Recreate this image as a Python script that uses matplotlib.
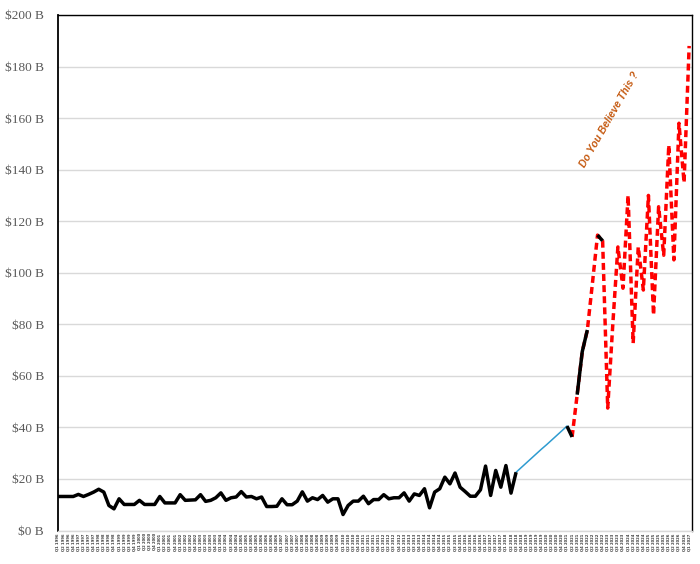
import numpy as np
import matplotlib
matplotlib.use("Agg")
import matplotlib.pyplot as plt

# ---------------- data ----------------
start_year = 1996
n_quarters = 125
quarter_labels = [f"Q{(i % 4) + 1} {start_year + i // 4}" for i in range(n_quarters)]

# historical actuals (black), quarters 0..90
hist_values = [13.2, 13.2, 13.2, 13.2, 14.0, 13.2, 14.0, 14.9, 16.0, 14.9,
               9.7, 8.4, 12.3, 10.1, 10.1, 10.1, 11.7, 10.1, 10.1, 10.1,
               13.2, 10.7, 10.7, 10.7, 13.9, 11.7, 11.8, 11.9, 13.9, 11.3,
               11.7, 12.7, 14.6, 11.7, 12.7, 13.0, 15.1, 13.0, 13.2, 12.3,
               13.0, 9.3, 9.3, 9.4, 12.3, 10.0, 10.0, 11.4, 15.0, 11.4,
               12.7, 12.0, 13.6, 11.0, 12.3, 12.3, 6.2, 9.7, 11.4, 11.4,
               13.3, 10.4, 12.0, 12.0, 13.9, 12.3, 12.7, 12.7, 14.6, 11.4,
               14.2, 13.6, 16.2, 8.8, 14.9, 16.2, 20.7, 18.1, 22.3, 16.8,
               15.1, 13.3, 13.3, 15.8, 25.0, 13.6, 23.3, 16.8, 25.2, 14.5,
               22.6]
# blue trend line, quarters 90..100
trend_values = [22.6, 24.4, 26.2, 28.0, 29.8, 31.6, 33.3, 35.1, 36.9, 38.7, 40.5]
# short black actual segment, quarters 100..101
recent_a = [40.5, 36.3]
# later black actual segments, quarters 102..104 and 106..107
recent_b = [52.7, 69.4, 77.8]
recent_c = [114.6, 112.4]
# red dashed forecast, quarters 101..124
forecast_values = [36.3, 52.7, 69.4, 77.8, 96.0, 114.6, 112.4, 47.5, 80.0, 110.0,
                   94.0, 130.0, 72.7, 110.0, 93.3, 130.0, 83.6, 125.6, 106.8, 149.5,
                   105.0, 158.0, 135.0, 188.0]

y_ticks = [0, 20, 40, 60, 80, 100, 120, 140, 160, 180, 200]
y_tick_labels = [f"${v} B" for v in y_ticks]
annotation = "Do You Believe This ?"


def pad(values, start):
    arr = np.full(n_quarters, np.nan)
    arr[start:start + len(values)] = values
    return arr


x = np.arange(n_quarters)
hist = pad(hist_values, 0)
trend = pad(trend_values, 90)
seg_a = pad(recent_a, 100)
seg_b = pad(recent_b, 102)
seg_c = pad(recent_c, 106)
forecast = pad(forecast_values, 101)

# ---------------- figure ----------------
fig = plt.figure(figsize=(7, 5.64), dpi=100)
ax = fig.add_axes([58 / 700, 1 - 530.5 / 564, (692 - 58) / 700, (530.5 - 15) / 564])

ax.plot(x, trend, color="#2E9BD0", lw=1.1, zorder=3)
ax.plot(x, forecast, color="#FF0000", lw=2.5, dashes=(2.0, 1.2), zorder=3,
        solid_joinstyle="round")
for s in (hist, seg_a, seg_b, seg_c):
    ax.plot(x, s, color="black", lw=2.5, zorder=4, solid_joinstyle="round",
            solid_capstyle="butt")

ax.set_xlim(0, 124.56)
ax.set_ylim(0, 200)
ax.set_yticks(y_ticks)
ax.set_yticklabels(y_tick_labels, fontfamily="Liberation Serif", fontsize=9.5,
                   color="#595959")
ax.set_xticks(x)
ax.set_xticklabels(quarter_labels, rotation=90, fontsize=2.7, color="#404040",
                   fontweight="bold")
ax.tick_params(axis="y", length=0, pad=10)
ax.tick_params(axis="x", length=0, pad=2)

ax.yaxis.grid(True, color="#d9d9d9", lw=1)
ax.set_axisbelow(True)
for side in ("left", "top", "right"):
    ax.spines[side].set_color("black")
ax.spines["left"].set_linewidth(1.3)
ax.spines["top"].set_linewidth(1.0)
ax.spines["right"].set_linewidth(1.0)
ax.spines["bottom"].set_color("#d9d9d9")
ax.spines["bottom"].set_linewidth(1.0)

ax.text(108.3, 159.3, annotation, rotation=60, rotation_mode="anchor",
        ha="center", va="center", color="#C55A11", fontsize=7.5,
        fontweight="bold", fontstyle="italic", fontfamily="Liberation Sans")

fig.savefig("out.png", dpi=100)
